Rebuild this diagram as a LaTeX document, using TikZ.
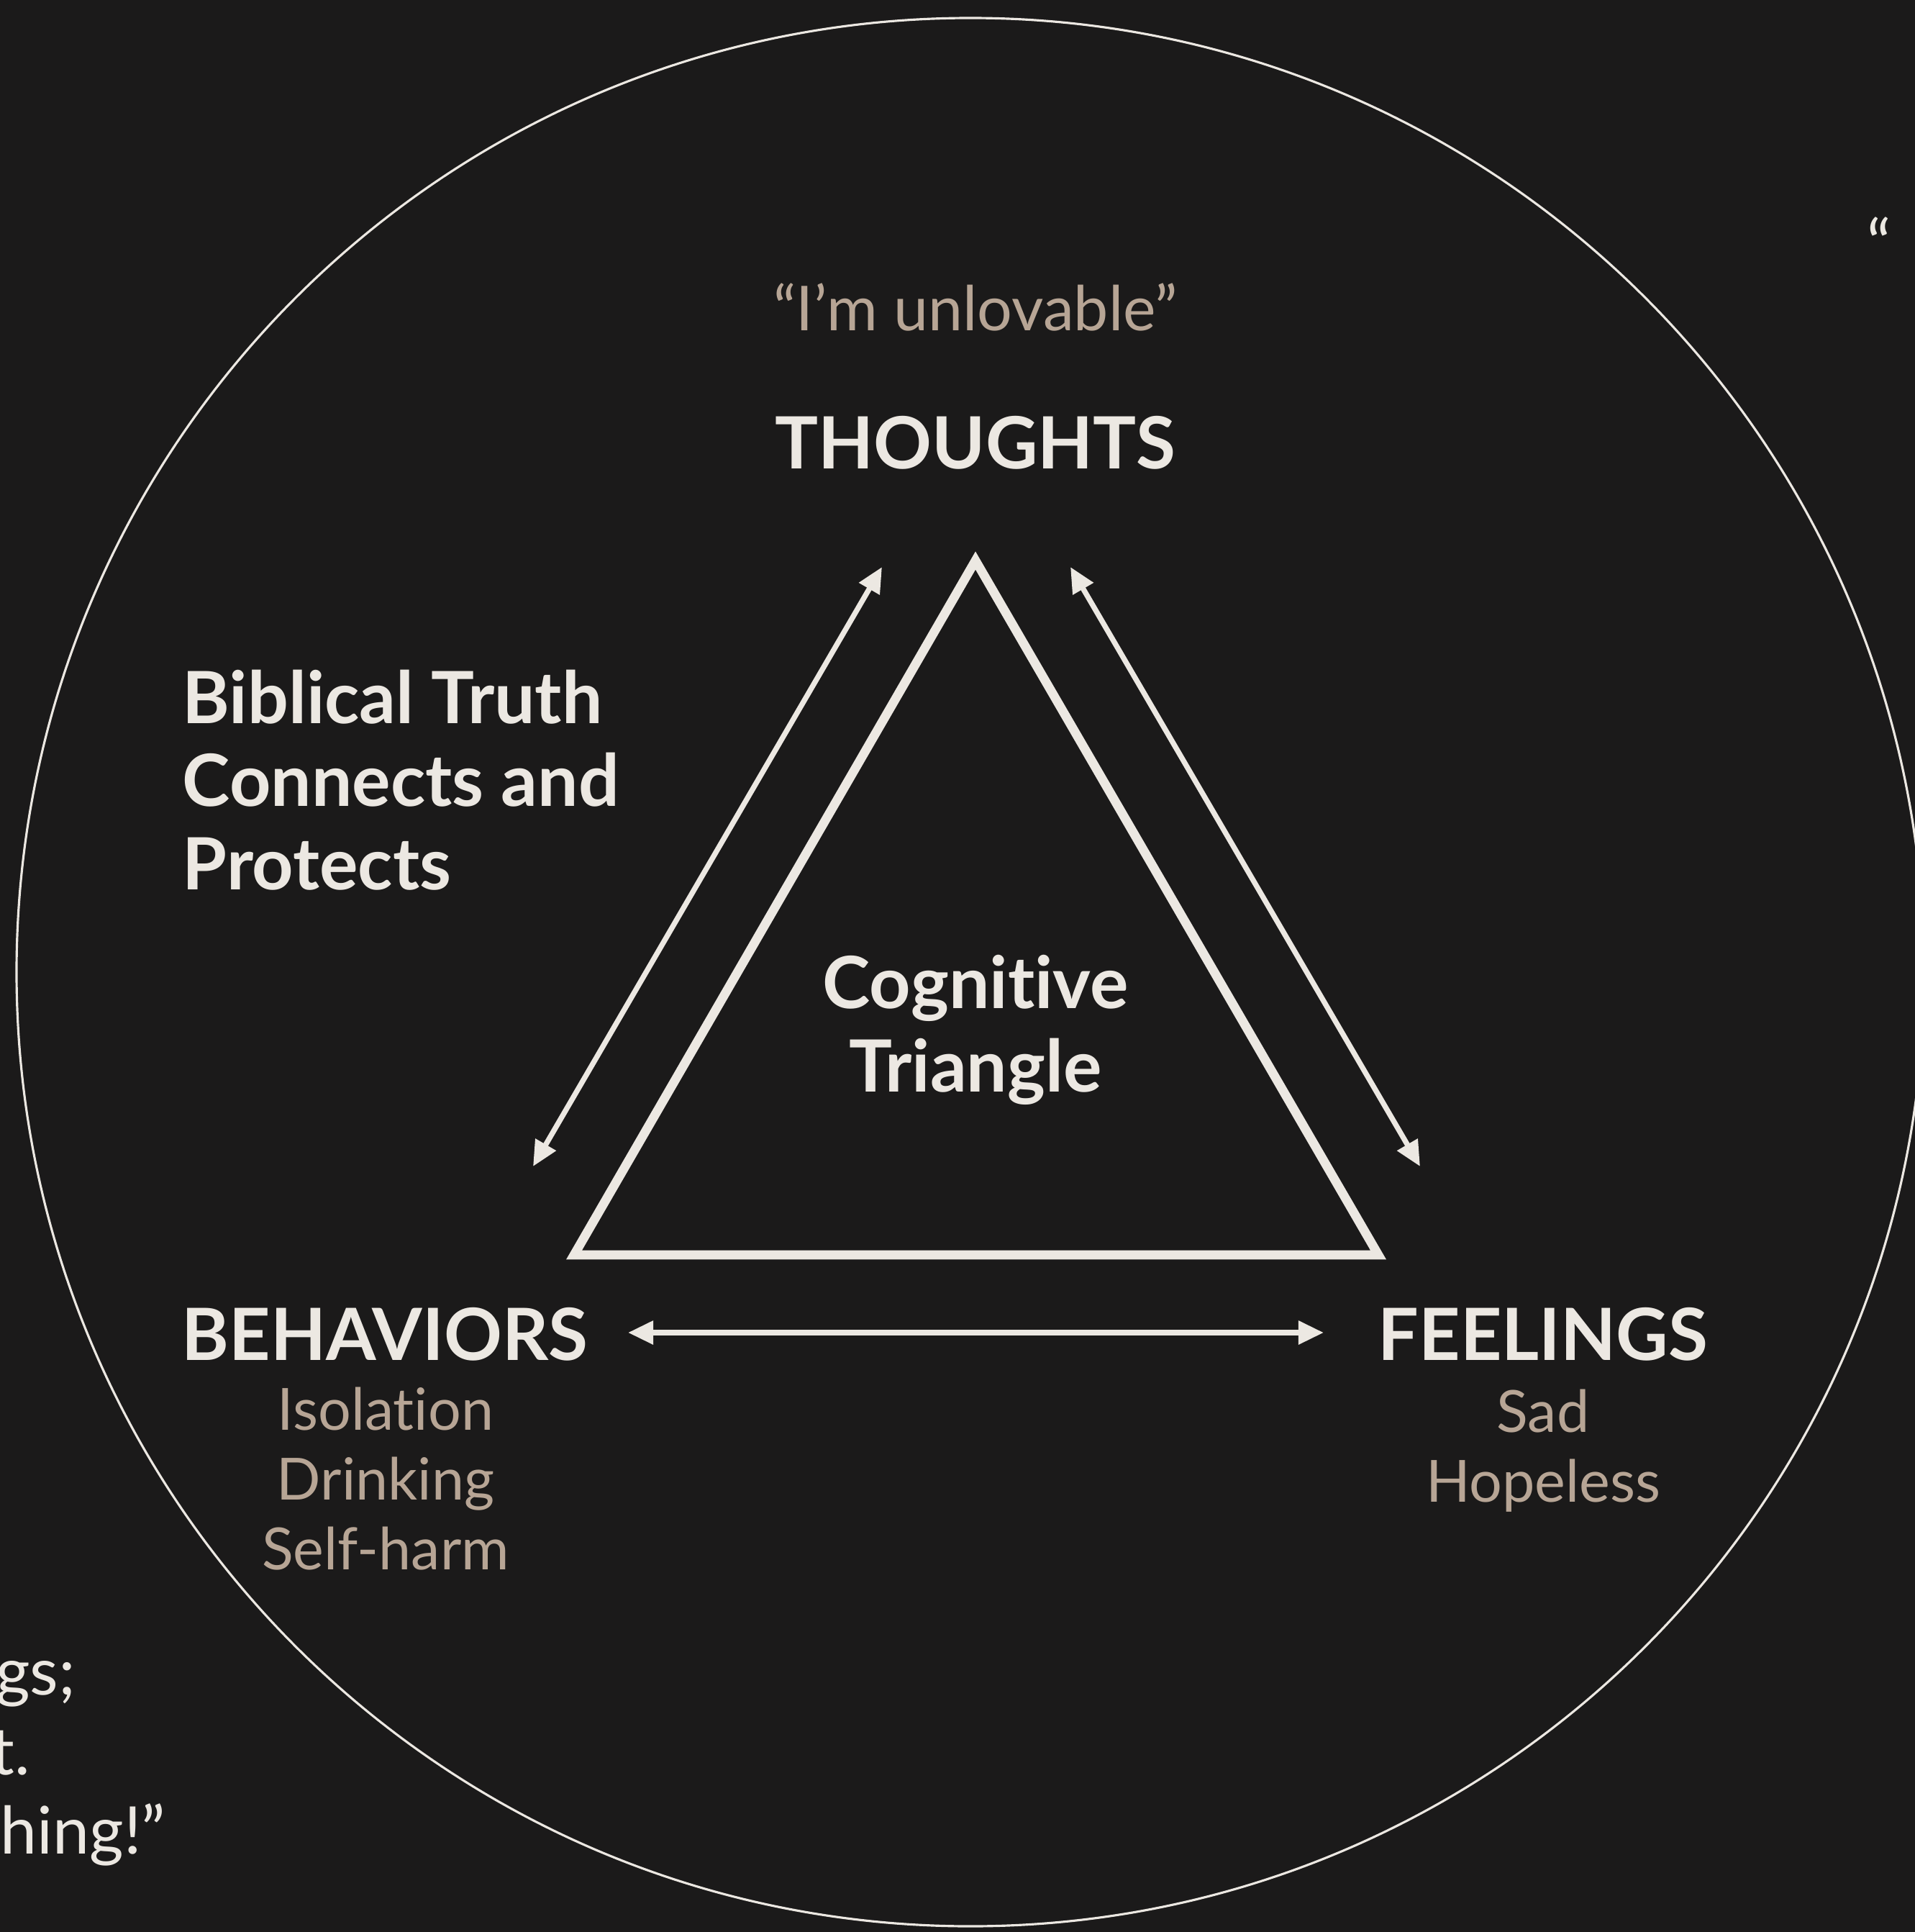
\documentclass[tikz,border=0pt]{standalone}
\usepackage{fontspec}
\setmainfont{Lato}[Ligatures=NoCommon]
\usetikzlibrary{arrows.meta, positioning}
\definecolor{bgdark}{HTML}{1B1A1A}
\definecolor{chalk}{HTML}{ECE8E2}
\definecolor{sand}{HTML}{B7A595}
\tikzset{>={Triangle[length=10pt,width=9pt]},
every node/.style={inner sep=0pt, text=chalk},
corner/.style={anchor=base, font=\bfseries\fontsize{28.5}{34}\selectfont},
example/.style={anchor=base, align=center, text=sand, font=\fontsize{23}{27.6}\selectfont},
note/.style={align=left, font=\bfseries\fontsize{28.5}{32.8}\selectfont},
cut/.style={anchor=base east, font=\fontsize{26}{32}\selectfont},
link/.style={<->, draw=chalk, line width=2.1pt},
}
\newcommand{\q}[1]{“#1”}

\begin{document}
\begin{tikzpicture}
    \fill[bgdark] (0,-26.85) rectangle (26.62,0);
    \useasboundingbox (0,-26.85) rectangle (26.62,0);
    % outer ring and triangle
    \coordinate (hub) at (13.49,-13.51);
    \draw[chalk, line width=0.9pt] (hub) circle (13.26);
    \coordinate (apex) at (13.56,-7.79);
    \coordinate (tbl) at (7.98,-17.44);
    \coordinate (tbr) at (19.16,-17.44);
    \draw[chalk, line width=3.6pt, line join=miter] (apex) -- (tbl) -- (tbr) -- cycle;

    \node[example, font=\fontsize{24.5}{28}\selectfont, xshift=13.56cm, yshift=-4.59cm] (belief) {\q{I’m unlovable}};
    \node[corner, xshift=13.56cm, yshift=-6.51cm] (thoughts) {THOUGHTS};
    \node[corner, xshift=5.35cm, yshift=-18.90cm] (behaviors) {BEHAVIORS};
    \node[corner, xshift=21.45cm, yshift=-18.90cm] (feelings) {FEELINGS};
    \node[example, xshift=5.36cm, yshift=-21.81cm] (acts) {Isolation\\Drinking\\Self-harm};
    \node[example, xshift=21.45cm, yshift=-20.87cm] (moods) {Sad\\Hopeless};
    \node[note, anchor=base west, xshift=2.53cm, yshift=-12.36cm] (truth) {Biblical Truth\\Connects and\\Protects};
    \node[note, anchor=base, align=center, xshift=13.56cm, yshift=-15.17cm] (center) {Cognitive\\Triangle};
    % text cut off at the page edges
    \node[cut, xshift=1.06cm, yshift=-23.55cm] (cuta) {gs;};
    \node[cut, xshift=0.43cm, yshift=-24.66cm] (cutb) {t.};
    \node[cut, xshift=2.31cm, yshift=-25.76cm] (cutc) {hing!”};
    \node[cut, anchor=base west, xshift=25.95cm, yshift=-3.72cm] (cutd) {“};

    \coordinate (tl) at (12.26,-7.88);
    \coordinate (bl) at (7.41,-16.21);
    \coordinate (tr) at (14.88,-7.88);
    \coordinate (br) at (19.74,-16.21);
    \coordinate (hl) at (8.73,-18.52);
    \coordinate (hr) at (18.40,-18.52);
    \draw
        (tl) edge[link] (bl)
        (tr) edge[link] (br)
        (hl) edge[link] (hr)
    ;
\end{tikzpicture}
\end{document}
